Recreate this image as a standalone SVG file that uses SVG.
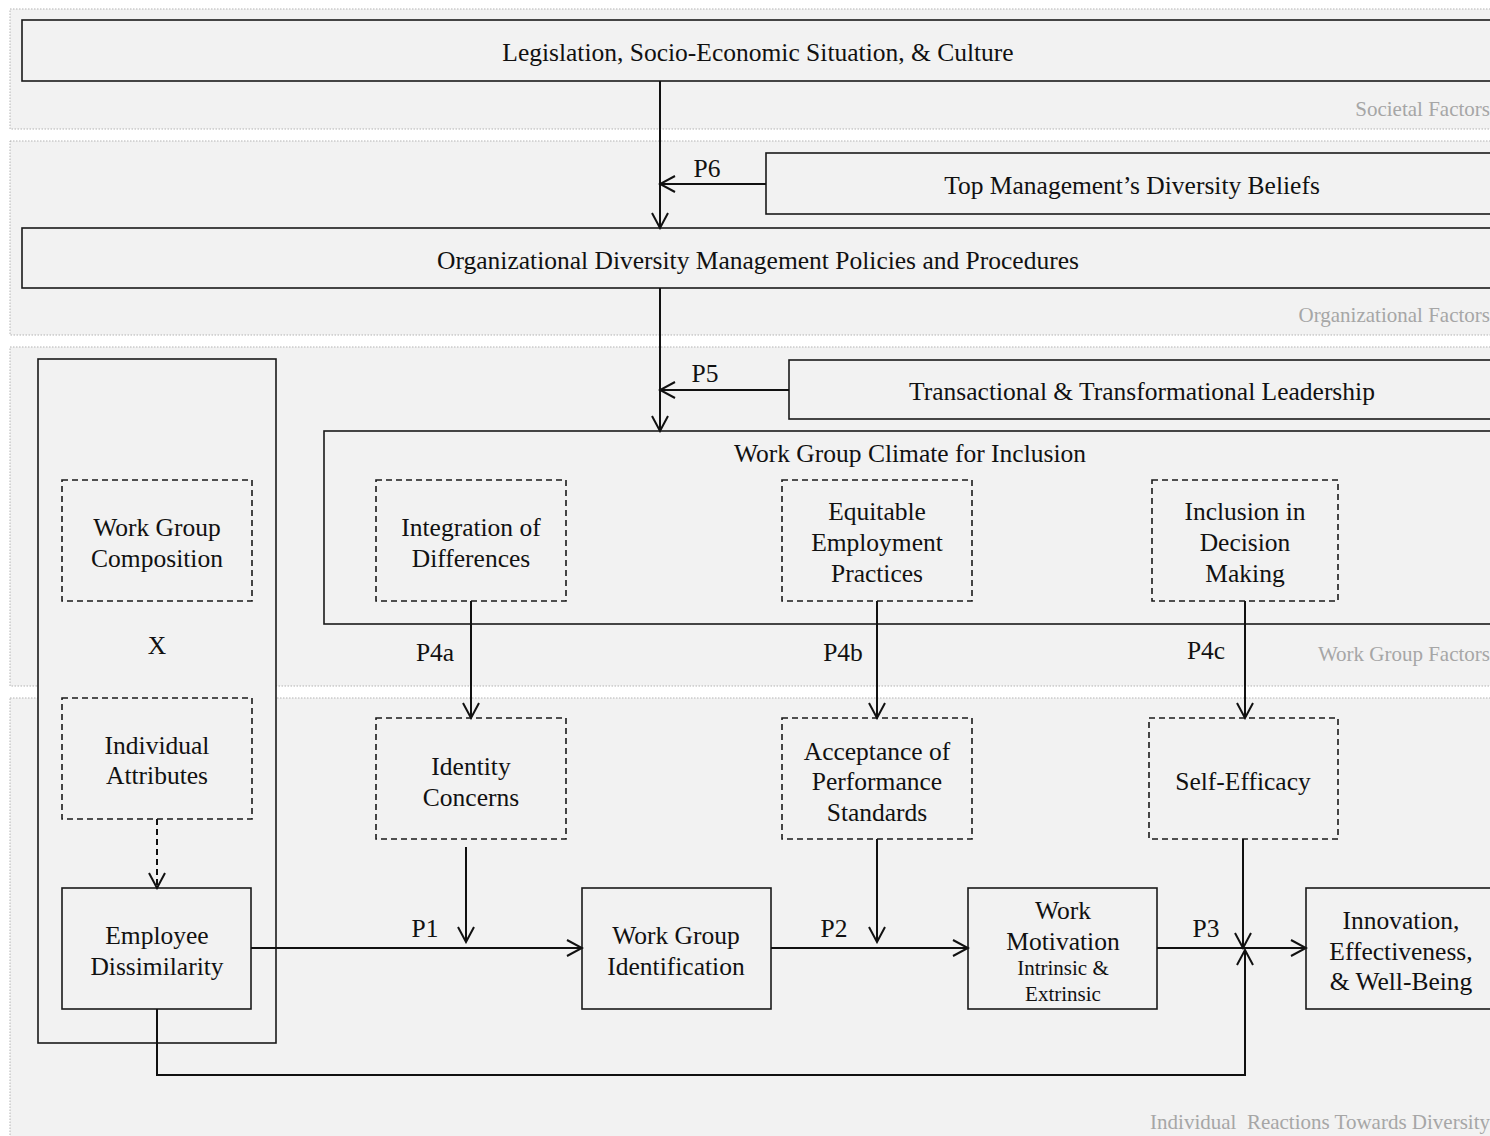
<svg xmlns="http://www.w3.org/2000/svg" width="1490" height="1136" viewBox="0 0 1490 1136">
<style>
.panel{fill:#f2f2f2;stroke:#b3b3b3;stroke-width:1;stroke-dasharray:1.5 1.5}
.box{fill:#f2f2f2;stroke:#1a1a1a;stroke-width:1.6}
.dbox{fill:#f2f2f2;stroke:#1a1a1a;stroke-width:1.6;stroke-dasharray:6 4}
.t{font-family:"Liberation Serif","Times New Roman",serif;font-size:25.5px;fill:#111;text-anchor:middle}
.s{font-family:"Liberation Serif","Times New Roman",serif;font-size:21px;fill:#111;text-anchor:middle}
.p{font-family:"Liberation Serif","Times New Roman",serif;font-size:25.5px;fill:#111;text-anchor:middle}
.g{font-family:"Liberation Serif","Times New Roman",serif;font-size:21px;fill:#a6a6a6;text-anchor:end}
.c{fill:none;stroke:#111;stroke-width:2}
.cd{fill:none;stroke:#111;stroke-width:2;stroke-dasharray:6 4}
</style>
<defs>
<marker id="ah" markerUnits="userSpaceOnUse" markerWidth="18" markerHeight="20" viewBox="0 0 18 20" refX="16" refY="10" orient="auto">
<path d="M1,2 L16,10 L1,18" fill="none" stroke="#111" stroke-width="2"/>
</marker>
</defs>
<rect x="0" y="0" width="1490" height="1136" fill="#fff"/>

<g id="panel-societal">
<rect class="panel" x="10" y="9" width="1500" height="120"/>
<text class="g" x="1490" y="116">Societal Factors</text>
</g>
<g id="panel-organizational">
<rect class="panel" x="10" y="141" width="1500" height="194"/>
<text class="g" x="1490" y="322">Organizational Factors</text>
</g>
<g id="panel-workgroup">
<rect class="panel" x="10" y="347" width="1500" height="339"/>
<text class="g" x="1490" y="661">Work Group Factors</text>
</g>
<g id="panel-individual">
<rect class="panel" x="10" y="698" width="1500" height="460"/>
<text class="g" x="1490" y="1129" xml:space="preserve">Individual  Reactions Towards Diversity</text>
</g>

<g id="n-legislation">
<rect class="box" x="22" y="20" width="1480" height="61"/>
<text class="t" x="758" y="61">Legislation, Socio-Economic Situation, &amp; Culture</text>
</g>
<g id="n-topmgmt">
<rect class="box" x="766" y="153" width="740" height="61"/>
<text class="t" x="1132" y="194">Top Management’s Diversity Beliefs</text>
</g>
<g id="n-orgpolicies">
<rect class="box" x="22" y="228" width="1480" height="60"/>
<text class="t" x="758" y="269">Organizational Diversity Management Policies and Procedures</text>
</g>
<g id="n-leadership">
<rect class="box" x="789" y="360" width="720" height="59"/>
<text class="t" x="1142" y="400">Transactional &amp; Transformational Leadership</text>
</g>

<g id="n-outer-left">
<rect class="box" x="38" y="359" width="238" height="684"/>
</g>
<g id="n-climate">
<rect class="box" x="324" y="431" width="1180" height="193"/>
<text class="t" x="910" y="462">Work Group Climate for Inclusion</text>
</g>
<g id="n-composition">
<rect class="dbox" x="62" y="480" width="190" height="121"/>
<text class="t" x="157" y="536">Work Group</text>
<text class="t" x="157" y="567">Composition</text>
</g>
<g id="n-x">
<text class="t" x="157" y="654">X</text>
</g>
<g id="n-attributes">
<rect class="dbox" x="62" y="698" width="190" height="121"/>
<text class="t" x="157" y="754">Individual</text>
<text class="t" x="157" y="784">Attributes</text>
</g>
<g id="n-integration">
<rect class="dbox" x="376" y="480" width="190" height="121"/>
<text class="t" x="471" y="536">Integration of</text>
<text class="t" x="471" y="567">Differences</text>
</g>
<g id="n-equitable">
<rect class="dbox" x="782" y="480" width="190" height="121"/>
<text class="t" x="877" y="520">Equitable</text>
<text class="t" x="877" y="551">Employment</text>
<text class="t" x="877" y="582">Practices</text>
</g>
<g id="n-inclusion">
<rect class="dbox" x="1152" y="480" width="186" height="121"/>
<text class="t" x="1245" y="520">Inclusion in</text>
<text class="t" x="1245" y="551">Decision</text>
<text class="t" x="1245" y="582">Making</text>
</g>
<g id="n-identity">
<rect class="dbox" x="376" y="718" width="190" height="121"/>
<text class="t" x="471" y="775">Identity</text>
<text class="t" x="471" y="806">Concerns</text>
</g>
<g id="n-acceptance">
<rect class="dbox" x="782" y="718" width="190" height="121"/>
<text class="t" x="877" y="760">Acceptance of</text>
<text class="t" x="877" y="790">Performance</text>
<text class="t" x="877" y="821">Standards</text>
</g>
<g id="n-selfefficacy">
<rect class="dbox" x="1149" y="718" width="189" height="121"/>
<text class="t" x="1243" y="790">Self-Efficacy</text>
</g>
<g id="n-dissimilarity">
<rect class="box" x="62" y="888" width="189" height="121"/>
<text class="t" x="157" y="944">Employee</text>
<text class="t" x="157" y="975">Dissimilarity</text>
</g>
<g id="n-identification">
<rect class="box" x="582" y="888" width="189" height="121"/>
<text class="t" x="676" y="944">Work Group</text>
<text class="t" x="676" y="975">Identification</text>
</g>
<g id="n-motivation">
<rect class="box" x="968" y="888" width="189" height="121"/>
<text class="t" x="1063" y="919">Work</text>
<text class="t" x="1063" y="950">Motivation</text>
<text class="s" x="1063" y="975">Intrinsic &amp;</text>
<text class="s" x="1063" y="1001">Extrinsic</text>
</g>
<g id="n-outcomes">
<rect class="box" x="1306" y="888" width="200" height="121"/>
<text class="t" x="1401" y="929">Innovation,</text>
<text class="t" x="1401" y="960">Effectiveness,</text>
<text class="t" x="1401" y="990">&amp; Well-Being</text>
</g>

<g id="connectors">
<path class="c" d="M660,81 V228" marker-end="url(#ah)"/>
<path class="c" d="M766,184 H660" marker-end="url(#ah)"/>
<path class="c" d="M660,288 V431" marker-end="url(#ah)"/>
<path class="c" d="M789,390 H660" marker-end="url(#ah)"/>
<path class="c" d="M471,601 V718" marker-end="url(#ah)"/>
<path class="c" d="M877,601 V718" marker-end="url(#ah)"/>
<path class="c" d="M1245,601 V718" marker-end="url(#ah)"/>
<path class="cd" d="M157,819 V888" marker-end="url(#ah)"/>
<path class="c" d="M251,948 H582" marker-end="url(#ah)"/>
<path class="c" d="M466,847 V942" marker-end="url(#ah)"/>
<path class="c" d="M771,948 H968" marker-end="url(#ah)"/>
<path class="c" d="M877,839 V942" marker-end="url(#ah)"/>
<path class="c" d="M1157,948 H1306" marker-end="url(#ah)"/>
<path class="c" d="M1243,839 V948" marker-end="url(#ah)"/>
<path class="c" d="M157,1009 V1075 H1245 V950" marker-end="url(#ah)"/>
<text class="p" x="707" y="177">P6</text>
<text class="p" x="705" y="382">P5</text>
<text class="p" x="435" y="661">P4a</text>
<text class="p" x="843" y="661">P4b</text>
<text class="p" x="1206" y="659">P4c</text>
<text class="p" x="425" y="937">P1</text>
<text class="p" x="834" y="937">P2</text>
<text class="p" x="1206" y="937">P3</text>
</g>
</svg>
